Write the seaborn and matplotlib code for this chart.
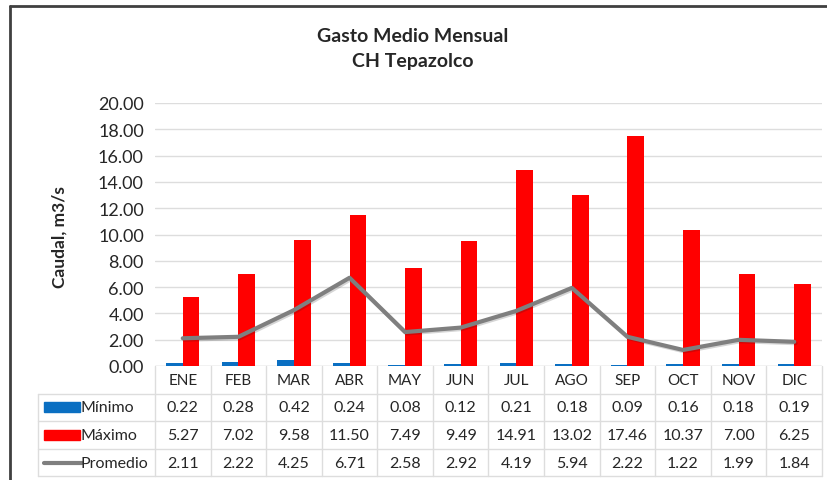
import numpy as np
import pandas as pd
import matplotlib
matplotlib.use("Agg")
import matplotlib.pyplot as plt
import matplotlib.transforms as mtransforms
import matplotlib.patheffects as pe
import seaborn as sns

meses = ["ENE", "FEB", "MAR", "ABR", "MAY", "JUN", "JUL", "AGO", "SEP", "OCT", "NOV", "DIC"]
minimo = [0.22, 0.28, 0.42, 0.24, 0.08, 0.12, 0.21, 0.18, 0.09, 0.16, 0.18, 0.19]
maximo = [5.27, 7.02, 9.58, 11.50, 7.49, 9.49, 14.91, 13.02, 17.46, 10.37, 7.00, 6.25]
promedio = [2.11, 2.22, 4.25, 6.71, 2.58, 2.92, 4.19, 5.94, 2.22, 1.22, 1.99, 1.84]
yticks = [0, 2, 4, 6, 8, 10, 12, 14, 16, 18, 20]

sns.set_theme(style="white")
plt.rcParams['font.family'] = ['Lato', 'DejaVu Sans']

W, H = 827, 481
fig = plt.figure(figsize=(W / 100, H / 100), dpi=100)
fig.patch.set_facecolor("white")

def fy(px):
    return 1 - px / H

def fx(px):
    return px / W

ax_left, ax_right, ax_top, ax_bot = 155, 822, 104, 367
ax = fig.add_axes([fx(ax_left), fy(ax_bot), fx(ax_right - ax_left), (ax_bot - ax_top) / H])

BLUE = "#0A6FC2"
RED = "#FF0000"
GRAY = "#7F7F7F"
TXT = "#262626"
GRID = "#DDDDDD"

df = pd.DataFrame({
    "mes": meses * 2,
    "valor": minimo + maximo,
    "serie": ["Mínimo"] * 12 + ["Máximo"] * 12,
})
sns.barplot(data=df, x="mes", y="valor", hue="serie", order=meses,
            hue_order=["Mínimo", "Máximo"], palette=[BLUE, RED],
            width=0.6, gap=0, ax=ax, legend=False, edgecolor="none", saturation=1)

dfl = pd.DataFrame({"mes": meses, "valor": promedio})
sns.lineplot(data=dfl, x="mes", y="valor", color=GRAY, linewidth=3, ax=ax,
             sort=False,
             path_effects=[pe.SimpleLineShadow(offset=(1, -1), alpha=0.18), pe.Normal()])

ax.set_xlim(-0.5, 11.5)
ax.set_ylim(0, 20)
ax.set_yticks(yticks)
ax.set_yticklabels([f"{v:.2f}" for v in yticks], fontsize=13, color=TXT)
ax.set_xticks([])
ax.set_xlabel("")
ax.set_ylabel("")
ax.yaxis.grid(True, color=GRID, linewidth=1)
ax.set_axisbelow(True)
for s in ax.spines.values():
    s.set_visible(False)
ax.tick_params(axis="y", length=0, pad=8)
ax.axhline(0, color=GRID, linewidth=1, zorder=0.5)

# Title
fig.text(fx(413), fy(37), "Gasto Medio Mensual", ha="center", va="center",
         fontsize=14, fontweight="bold", color=TXT)
fig.text(fx(413), fy(62), "CH Tepazolco", ha="center", va="center",
         fontsize=14, fontweight="bold", color=TXT)
fig.text(fx(60), fy(237), "Caudal, m3/s", ha="center", va="center", rotation=90,
         fontsize=12.5, fontweight="bold", color=TXT)

# Data table
bt = mtransforms.blended_transform_factory(ax.transData, fig.transFigure)
row_y = [381, 408, 436, 464]
h_lines = [395, 422, 450, 477]
for hy in h_lines:
    fig.add_artist(plt.Line2D([fx(38), fx(822)], [fy(hy), fy(hy)], color=GRID, linewidth=1))
for i in range(13):
    ax.plot([i - 0.5, i - 0.5], [fy(367), fy(477)], transform=bt, color=GRID,
            linewidth=1, clip_on=False)
fig.add_artist(plt.Line2D([fx(38), fx(38)], [fy(395), fy(477)], color=GRID, linewidth=1))

for i, m in enumerate(meses):
    ax.text(i, fy(row_y[0]), m, transform=bt, ha="center", va="center", fontsize=11, color=TXT)
    ax.text(i, fy(row_y[1]), f"{minimo[i]:.2f}", transform=bt, ha="center", va="center", fontsize=11.5, color=TXT)
    ax.text(i, fy(row_y[2]), f"{maximo[i]:.2f}", transform=bt, ha="center", va="center", fontsize=11.5, color=TXT)
    ax.text(i, fy(row_y[3]), f"{promedio[i]:.2f}", transform=bt, ha="center", va="center", fontsize=11.5, color=TXT)

# row labels with legend keys
fig.add_artist(plt.Rectangle((fx(44), fy(413)), fx(36), 10 / H, color=BLUE, transform=fig.transFigure))
fig.add_artist(plt.Rectangle((fx(44), fy(441)), fx(36), 10 / H, color=RED, transform=fig.transFigure))
fig.add_artist(plt.Line2D([fx(44), fx(82)], [fy(464), fy(464)], color=GRAY, linewidth=3))
for lbl, yy in zip(["Mínimo", "Máximo", "Promedio"], row_y[1:]):
    fig.text(fx(81), fy(yy), lbl, ha="left", va="center", fontsize=11.5, color=TXT)

# outer border (top and left)
fig.add_artist(plt.Line2D([fx(10), fx(827)], [fy(7), fy(7)], color="#404040", linewidth=2))
fig.add_artist(plt.Line2D([fx(10), fx(10)], [fy(7), fy(481)], color="#404040", linewidth=2))

fig.savefig("out.png", dpi=100, facecolor="white")
